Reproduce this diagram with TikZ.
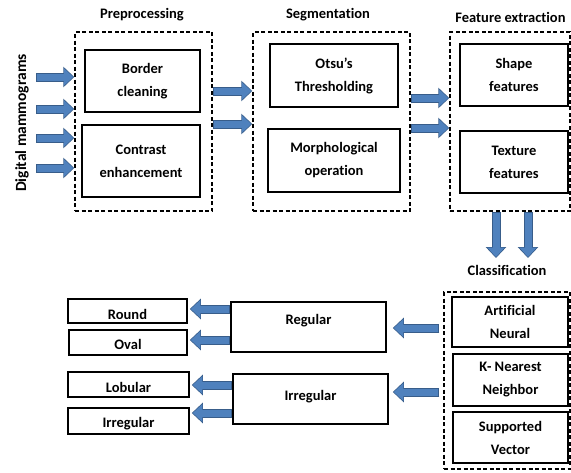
\documentclass[tikz,border=0pt]{standalone}
\usepackage{fontspec}
\setmainfont{Carlito}[Ligatures=CommonOff]
\usetikzlibrary{arrows.meta}
\definecolor{arrowblue}{HTML}{4F81BD}
\definecolor{arrowedge}{HTML}{385D8A}

\tikzset{
  box/.style={draw, line width=1.6pt, inner sep=0pt, align=center,
    font=\fontsize{14.5}{23}\selectfont\bfseries},
  stage/.style={draw, line width=1.4pt, dash pattern=on 4pt off 2.5pt, inner sep=0pt},
  title/.style={font=\fontsize{14.5}{16}\selectfont\bfseries},
  blockarrow/.style={line width=9pt, draw=arrowedge,
    -{Triangle[width=20pt,length=11pt]},
    postaction={draw=arrowblue, line width=7pt,
      -{Triangle[width=17pt,length=9.5pt]}, shorten >=1pt, shorten <=1pt}},
}

\begin{document}
\begin{tikzpicture}[x=1pt, y=-1pt]
  \useasboundingbox (0,0) rectangle (571,472);

  % stages
  \node[stage, minimum width=137pt, minimum height=179pt] (pre) at (143.5,121.5) {};
  \node[stage, minimum width=157pt, minimum height=179pt] (seg) at (331.5,121.5) {};
  \node[stage, minimum width=120pt, minimum height=179pt] (feat) at (510,121.5) {};
  \node[stage, minimum width=126pt, minimum height=177pt] (class) at (507,380.5) {};

  \node[title] (pretitle) at (142,15) {Preprocessing};
  \node[title] (segtitle) at (328,15) {Segmentation};
  \node[title] (feattitle) at (510.5,17) {Feature extraction};
  \node[title] (classtitle) at (507,270) {Classification};
  \node[title, font=\fontsize{15.5}{16}\selectfont\bfseries, rotate=90] (input) at (22,123) {Digital mammograms};

  % boxes
  \node[box, minimum width=115pt, minimum height=62pt] (border) at (142.5,81) {Border\\cleaning};
  \node[box, minimum width=118pt, minimum height=72pt] (contrast) at (141,161) {Contrast\\enhancement};
  \node[box, minimum width=128pt, minimum height=63pt] (otsu) at (334,75.5) {Otsu’s\\Thresholding};
  \node[box, minimum width=132pt, minimum height=63pt] (morph) at (334,160.5) {Morphological\\operation};
  \node[box, minimum width=108pt, minimum height=62pt] (shape) at (514,75) {Shape\\features};
  \node[box, minimum width=108pt, minimum height=62pt] (texture) at (514,162) {Texture\\features};
  \node[box, minimum width=116pt, minimum height=50pt] (ann) at (510,322) {Artificial\\Neural};
  \node[box, minimum width=115pt, minimum height=52pt] (knn) at (510.5,380) {K- Nearest\\Neighbor};
  \node[box, minimum width=115pt, minimum height=51pt] (svm) at (510.5,437.5) {Supported\\Vector};
  \node[box, minimum width=155pt, minimum height=50pt, text depth=16pt] (regular) at (308.5,327) {Regular};
  \node[box, minimum width=155pt, minimum height=50pt, text depth=8pt] (irregular) at (310.5,399) {Irregular};
  \node[box, minimum width=119pt, minimum height=24pt, text height=18pt] (round) at (127.5,311) {Round};
  \node[box, minimum width=118pt, minimum height=25pt, text height=14pt] (oval) at (128,342.5) {Oval};
  \node[box, minimum width=121pt, minimum height=25pt, text height=16pt] (lobular) at (128.5,384.5) {Lobular};
  \node[box, minimum width=121pt, minimum height=26pt, text height=16pt] (irreg) at (128.5,421) {Irregular};

  % input arrows
  \foreach \y/\n in {77/1,109/2,138/3,168/4}{
    \coordinate (in\n) at (36,\y);
    \draw[blockarrow] (in\n) -- (in\n -| pre.west);
  }
  % stage arrows
  \draw[blockarrow] (pre.east |- 0,91) -- (seg.west |- 0,91);
  \draw[blockarrow] (pre.east |- 0,124) -- (seg.west |- 0,124);
  \draw[blockarrow] (seg.east |- 0,98) -- (feat.west |- 0,98);
  \draw[blockarrow] (seg.east |- 0,128) -- (feat.west |- 0,128);
  \coordinate (down1) at (496,258);
  \coordinate (down2) at (528,258);
  \draw[blockarrow] (feat.south -| down1) -- (down1);
  \draw[blockarrow] (feat.south -| down2) -- (down2);
  % classifier to shape classes
  \draw[blockarrow] ([xshift=-4pt]class.west |- 0,328) -- ([xshift=6pt]regular.east |- 0,328);
  \draw[blockarrow] ([xshift=-4pt]class.west |- 0,392) -- ([xshift=4pt]irregular.east |- 0,392);
  \draw[blockarrow] (regular.west |- 0,309) -- ([xshift=2pt]round.east |- 0,309);
  \draw[blockarrow] (regular.west |- 0,340) -- ([xshift=2pt]oval.east |- 0,340);
  \draw[blockarrow] (irregular.west |- 0,385) -- ([xshift=2pt]lobular.east |- 0,385);
  \draw[blockarrow] (irregular.west |- 0,413) -- ([xshift=2pt]irreg.east |- 0,413);
\end{tikzpicture}
\end{document}
